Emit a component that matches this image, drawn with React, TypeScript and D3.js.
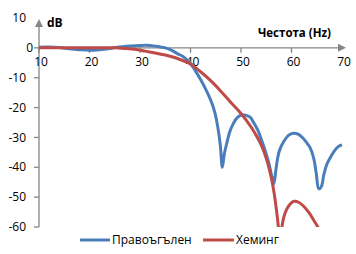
import React from "react";
import * as d3 from "d3";

const rectFreq = [10, 12, 14, 16, 18, 20, 22, 24, 26, 28, 30, 32, 34, 35, 36, 37.5, 38.5, 40, 41, 42, 43, 44, 44.8, 45.4, 45.9, 46.3, 46.7, 47.2, 47.8, 48.5, 49.3, 50.2, 51, 51.8, 52.5, 53.3, 54, 54.8, 55.5, 56.1, 56.5, 56.9, 57.3, 57.7, 58.5, 59.4, 60.4, 61.4, 62.3, 63.1, 63.7, 64.4, 64.9, 65.4, 65.9, 66.4, 67, 67.6, 68.5, 69.3, 70];
const rectDb = [0.2, 0.3, 0.1, -0.3, -0.6, -0.8, -0.6, -0.2, 0.3, 0.6, 0.8, 0.8, 0.3, 0, -0.6, -2, -2.9, -5.3, -7.8, -10.6, -13.8, -17.5, -21.5, -26.5, -32.5, -40, -35.5, -31.8, -28, -25.3, -23.3, -22.4, -22.6, -23.2, -25, -27.5, -30.5, -34.5, -38.5, -43, -45.5, -41, -36.5, -34, -31.3, -29.3, -28.6, -29, -30.3, -32, -33.5, -37, -42, -47.2, -46.5, -42.5, -39, -37, -34.5, -33, -32.5];

const hamFreq = [10, 14, 18, 22, 25, 27, 29, 31, 33, 35, 37, 39, 40, 42, 44, 46, 48, 50, 52, 53, 54, 55, 56, 56.5, 57, 57.4, 57.7, 58.1, 58.7, 59.5, 60.5, 61.5, 62.5, 63.5, 64.5, 65.2, 66];
const hamDb = [0, 0, 0, 0, 0, -0.2, -0.5, -1.1, -1.7, -2.4, -3.3, -4.6, -5.4, -8.0, -11.0, -14.5, -18.3, -22.0, -26.5, -29.3, -32.5, -37, -43.5, -48, -54, -60, -68, -60, -55.5, -52.8, -51.4, -51.8, -53.2, -55.3, -58, -60, -63];

const xTicks = [10, 20, 30, 40, 50, 60, 70];
const yTicks = [10, 0, -10, -20, -30, -40, -50, -60];
const seriesNames = ["Правоъгълен", "Хеминг"];
const colors = ["#4a7ebb", "#be4b48"];

export default function App() {
  const W = 356, H = 254;
  const x = d3.scaleLinear().domain([10, 70]).range([39, 342]);
  const y = d3.scaleLinear().domain([-60, 10]).range([227, 18]);
  const font = "'Open Sans', 'Noto Sans', sans-serif";
  const axisColor = "#868686";

  const line = d3
    .line<[number, number]>()
    .x((d) => x(d[0]))
    .y((d) => y(d[1]))
    .curve(d3.curveCatmullRom.alpha(0.5));

  const rectPts: [number, number][] = rectFreq.map((f, i) => [f, rectDb[i]]);
  const hamPts: [number, number][] = hamFreq.map((f, i) => [f, hamDb[i]]);

  const y0 = y(0);
  const xAxisEnd = x(70) + 4;
  const yTop = y(10);

  return (
    <svg width={W} height={H} style={{ position: "absolute", left: 0, top: 0, background: "#fff" }}>
      <defs>
        <clipPath id="plot">
          <rect x={x(10)} y={y(10)} width={x(70) - x(10) + 3} height={y(-60) - y(10)} />
        </clipPath>
      </defs>
      {/* y axis */}
      <line x1={x(10)} x2={x(10)} y1={y(-60)} y2={yTop + 7} stroke={axisColor} strokeWidth={1.3} />
      <path d={`M${x(10) - 4},${yTop + 9} L${x(10)},${yTop + 1} L${x(10) + 4},${yTop + 9} Z`} fill={axisColor} />
      {yTicks.map((t) => (
        <g key={"y" + t}>
          {t !== 10 && (
            <line x1={x(10) - 5} x2={x(10)} y1={y(t)} y2={y(t)} stroke={axisColor} strokeWidth={1.3} />
          )}
          <text
            x={t === 0 ? 33 : 26}
            y={y(t)}
            dy="0.35em"
            textAnchor="end"
            fontFamily={font}
            fontSize={12}
            fill="#000"
          >
            {t}
          </text>
        </g>
      ))}
      {/* x axis */}
      <line x1={x(10)} x2={xAxisEnd - 6} y1={y0} y2={y0} stroke={axisColor} strokeWidth={1.3} />
      <path d={`M${xAxisEnd - 8},${y0 - 4} L${xAxisEnd},${y0} L${xAxisEnd - 8},${y0 + 4} Z`} fill={axisColor} />
      {xTicks.map((t) => (
        <g key={"x" + t}>
          {t !== 70 && (
            <line x1={x(t)} x2={x(t)} y1={y0} y2={y0 + 5} stroke={axisColor} strokeWidth={1.3} />
          )}
          <text x={x(t) + 2} y={y0 + 18} textAnchor="middle" fontFamily={font} fontSize={12} fill="#000">
            {t}
          </text>
        </g>
      ))}
      <text x={47} y={27} fontFamily={font} fontSize={12} fontWeight="bold" fill="#000">
        dB
      </text>
      <text x={331} y={37} textAnchor="end" fontFamily={font} fontSize={11.5} fontWeight="bold" fill="#000">
        Честота (Hz)
      </text>
      <g clipPath="url(#plot)">
        <path d={line(rectPts) || ""} fill="none" stroke={colors[0]} strokeWidth={3} strokeLinejoin="round" />
        <path d={line(hamPts) || ""} fill="none" stroke={colors[1]} strokeWidth={3} strokeLinejoin="round" />
      </g>
      {/* legend */}
      <line x1={80} x2={110} y1={240} y2={240} stroke={colors[0]} strokeWidth={3} />
      <text x={112} y={240} dy="0.35em" fontFamily={font} fontSize={12} fill="#000">
        {seriesNames[0]}
      </text>
      <line x1={203} x2={234} y1={240} y2={240} stroke={colors[1]} strokeWidth={3} />
      <text x={236} y={240} dy="0.35em" fontFamily={font} fontSize={12} fill="#000">
        {seriesNames[1]}
      </text>
    </svg>
  );
}
